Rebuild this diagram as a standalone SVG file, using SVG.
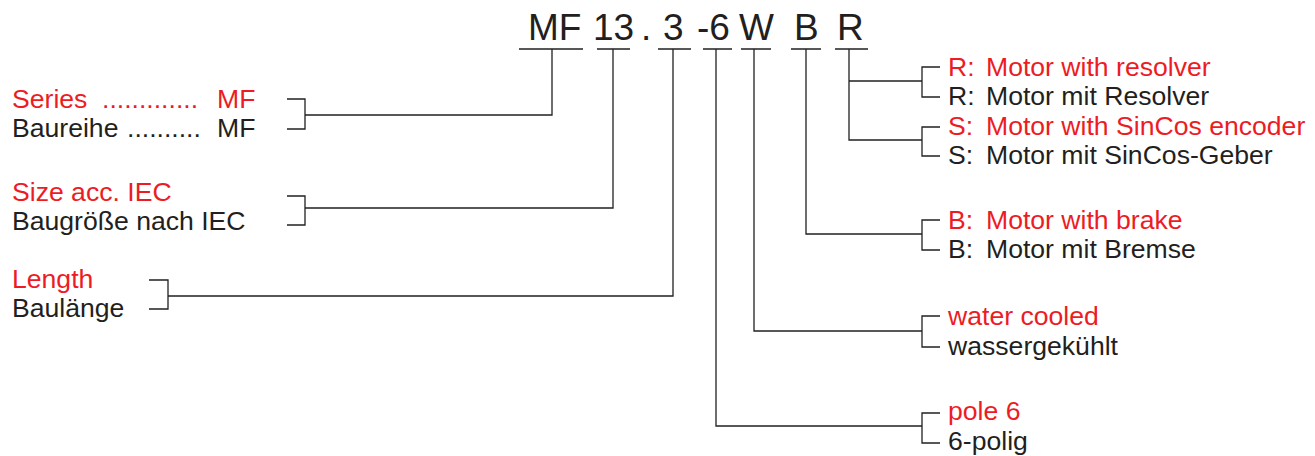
<svg xmlns="http://www.w3.org/2000/svg" width="1315" height="456" viewBox="0 0 1315 456">
<style>
text{font-family:"Liberation Sans",Arial,sans-serif;font-size:26.6px;fill:#231f20}
.r{fill:#ed1c24}
.code{font-size:37px}
.ln{fill:none;stroke:#231f20;stroke-width:1.3}
</style>
<rect width="1315" height="456" fill="#fff"/>
<g id="code">
<text class="code" x="528" y="40">MF</text>
<text class="code" x="593" y="40">13</text>
<text class="code" x="641" y="40">.</text>
<text class="code" x="663" y="40">3</text>
<text class="code" x="697" y="40">-6</text>
<text class="code" x="739" y="40">W</text>
<text class="code" x="794" y="40">B</text>
<text class="code" x="837" y="40">R</text>
</g>
<g id="series">
<text class="r" x="12" y="108">Series</text>
<text class="r" x="102" y="108">.............</text>
<text class="r" x="217" y="108">MF</text>
<text x="12" y="137">Baureihe</text>
<text x="127" y="137">..........</text>
<text x="217" y="137">MF</text>
</g>
<g id="size">
<text class="r" x="12" y="201">Size acc. IEC</text>
<text x="12" y="230">Baugröße nach IEC</text>
</g>
<g id="length">
<text class="r" x="12" y="288">Length</text>
<text x="12" y="317">Baulänge</text>
</g>
<g id="resolver">
<text class="r" x="948" y="76">R:</text>
<text class="r" x="986" y="76">Motor with resolver</text>
<text x="948" y="105">R:</text>
<text x="986" y="105">Motor mit Resolver</text>
</g>
<g id="sincos">
<text class="r" x="948" y="135">S:</text>
<text class="r" x="986" y="135">Motor with SinCos encoder</text>
<text x="948" y="164">S:</text>
<text x="986" y="164">Motor mit SinCos-Geber</text>
</g>
<g id="brake">
<text class="r" x="948" y="229">B:</text>
<text class="r" x="986" y="229">Motor with brake</text>
<text x="948" y="258">B:</text>
<text x="986" y="258">Motor mit Bremse</text>
</g>
<g id="water">
<text class="r" x="948" y="325">water cooled</text>
<text x="948" y="355">wassergekühlt</text>
</g>
<g id="pole">
<text class="r" x="948" y="420">pole 6</text>
<text x="948" y="450">6-polig</text>
</g>
<g id="connectors" class="ln">
<path d="M519 49H583M597 49H630M658 49H691M703 49H732M741 49H771M791 49H821M835 49H868"/>
<path d="M552 49V115H305"/>
<path d="M287 99H305V129H287"/>
<path d="M613 49V208H305"/>
<path d="M287 196H305V225H287"/>
<path d="M673 49V296H168"/>
<path d="M149 280H168V309H149"/>
<path d="M849 49V140H922M849 81H922"/>
<path d="M940 67H922V97H940"/>
<path d="M940 127H922V156H940"/>
<path d="M806 49V234H922"/>
<path d="M940 220H922V250H940"/>
<path d="M754 49V331H922"/>
<path d="M940 316H922V347H940"/>
<path d="M716 49V426H922"/>
<path d="M940 413H922V443H940"/>
</g>
</svg>
